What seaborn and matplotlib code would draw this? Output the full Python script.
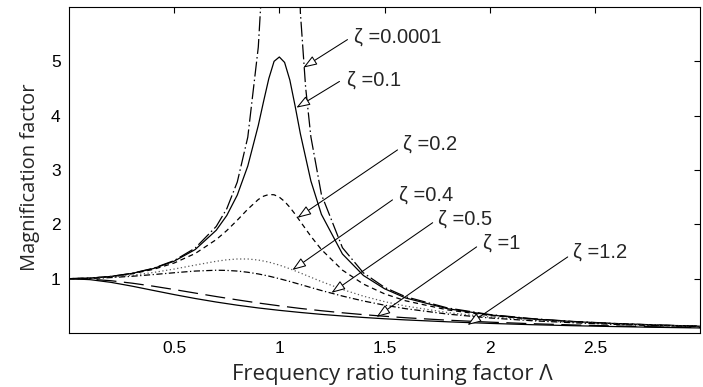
import matplotlib
matplotlib.use("Agg")
import matplotlib.pyplot as plt
import seaborn as sns
import pandas as pd

# ---------------- data ----------------
x_undamped = [0, 0.1, 0.2, 0.3, 0.4, 0.5, 0.6, 0.7, 0.75, 0.8, 0.85, 0.9, 0.925, 0.95,
              1.05, 1.1, 1.125, 1.15, 1.2, 1.3, 1.4, 1.5, 1.6, 1.8, 2.0, 2.2, 2.4, 2.6, 2.8, 3.0]
y_z00001 = [1.0, 1.01, 1.042, 1.099, 1.19, 1.333, 1.563, 1.961, 2.286, 2.778, 3.604, 5.263, 6.93, 10.26,
            14.0, 5.9, 4.52, 3.61, 2.55, 1.57, 1.106, 0.84, 0.668, 0.461, 0.34, 0.265, 0.212, 0.175, 0.147, 0.125]

x_peak = [0, 0.1, 0.2, 0.3, 0.4, 0.5, 0.6, 0.7, 0.75, 0.8, 0.85, 0.9, 0.925, 0.95, 0.975, 1.0,
          1.025, 1.05, 1.075, 1.1, 1.15, 1.2, 1.3, 1.4, 1.5, 1.6, 1.8, 2.0, 2.2, 2.4, 2.6, 2.8, 3.0]
y_z01 = [1.0, 1.01, 1.041, 1.097, 1.185, 1.322, 1.536, 1.891, 2.162, 2.538, 3.073, 3.821, 4.261, 4.683, 5.0, 5.08,
         4.98, 4.655, 4.178, 3.667, 2.798, 2.184, 1.454, 1.058, 0.815, 0.645, 0.447, 0.333, 0.259, 0.209, 0.173, 0.146, 0.125]
y_z02 = [1.0, 1.009, 1.038, 1.090, 1.170, 1.288, 1.463, 1.719, 1.885, 2.076, 2.279, 2.457, 2.518, 2.549, 2.544, 2.5,
         2.421, 2.313, 2.187, 2.051, 1.780, 1.536, 1.157, 0.900, 0.721, 0.593, 0.425, 0.322, 0.254, 0.206, 0.171, 0.144, 0.124]

x_mid = [0, 0.1, 0.2, 0.3, 0.4, 0.5, 0.6, 0.7, 0.75, 0.8, 0.85, 0.9, 0.95, 1.0, 1.05, 1.1, 1.15,
         1.2, 1.3, 1.4, 1.5, 1.6, 1.8, 2.0, 2.2, 2.4, 2.6, 2.8, 3.0]
y_z04 = [1.0, 1.007, 1.028, 1.063, 1.113, 1.177, 1.25, 1.320, 1.347, 1.362, 1.362, 1.343, 1.305, 1.25, 1.182, 1.105, 1.026,
         0.947, 0.801, 0.678, 0.577, 0.496, 0.376, 0.294, 0.237, 0.195, 0.163, 0.139, 0.120]
y_z05 = [1.0, 1.005, 1.020, 1.044, 1.075, 1.109, 1.140, 1.155, 1.152, 1.140, 1.118, 1.087, 1.047, 1.0, 0.948, 0.893, 0.837,
         0.782, 0.680, 0.589, 0.512, 0.448, 0.348, 0.277, 0.226, 0.188, 0.158, 0.135, 0.117]

x_low = [0, 0.1, 0.2, 0.3, 0.4, 0.5, 0.6, 0.7, 0.8, 0.9, 1.0, 1.1, 1.2, 1.3, 1.4, 1.5, 1.6,
         1.8, 2.0, 2.2, 2.4, 2.6, 2.8, 3.0]
y_z1 = [1.0, 0.990, 0.962, 0.917, 0.862, 0.8, 0.735, 0.671, 0.610, 0.552, 0.5, 0.452, 0.410, 0.372, 0.338, 0.308, 0.281,
        0.236, 0.2, 0.171, 0.148, 0.129, 0.113, 0.1]
y_z12 = [1.0, 0.982, 0.932, 0.862, 0.784, 0.707, 0.635, 0.570, 0.512, 0.461, 0.417, 0.378, 0.343, 0.313, 0.286, 0.262, 0.241,
         0.206, 0.177, 0.153, 0.134, 0.118, 0.104, 0.093]

labels = ["ζ =0.0001", "ζ =0.1", "ζ =0.2", "ζ =0.4", "ζ =0.5", "ζ =1", "ζ =1.2"]
# arrow tip (on curve), arrow tail, label anchor (data coords)
arrow_tips = [(1.114, 4.885), (1.081, 4.147), (1.086, 2.12), (1.062, 1.16), (1.248, 0.74), (1.462, 0.295), (1.895, 0.147)]
arrow_tails = [(1.324, 5.40), (1.286, 4.63), (1.562, 3.37), (1.538, 2.45), (1.729, 2.03), (1.938, 1.585), (2.371, 1.40)]
label_pos = [(1.357, 5.44), (1.324, 4.66), (1.586, 3.48), (1.571, 2.53), (1.752, 2.10), (1.967, 1.66), (2.395, 1.49)]

xticks = [0.5, 1, 1.5, 2, 2.5]
yticks = [1, 2, 3, 4, 5]

# ---------------- styling ----------------
sns.set_style("white")
plt.rcParams["font.family"] = ["Liberation Sans", "DejaVu Sans"]

fig = plt.figure(figsize=(7.03, 3.87), dpi=100)
ax = fig.add_axes([69 / 703, 1 - 333 / 387, 631 / 703, 326 / 387])

series = [
    (x_undamped, y_z00001, dict(dashes=(12, 2.5, 1.2, 2.5)), "black"),
    (x_peak, y_z01, dict(linestyle="-"), "black"),
    (x_peak, y_z02, dict(dashes=(4, 3)), "black"),
    (x_mid, y_z04, dict(dashes=(1, 2)), "0.35"),
    (x_mid, y_z05, dict(dashes=(5, 2, 1, 2)), "black"),
    (x_low, y_z1, dict(dashes=(16, 6)), "black"),
    (x_low, y_z12, dict(linestyle="-"), "black"),
]
for xs, ys, style, col in series:
    df = pd.DataFrame({"x": xs, "y": ys})
    line_kw = dict(style)
    dashes = line_kw.pop("dashes", None)
    sns.lineplot(data=df, x="x", y="y", ax=ax, color=col, lw=0.9, sort=False, **line_kw)
    if dashes is not None:
        ax.lines[-1].set_dashes(dashes)

for lab, tip, tail, pos in zip(labels, arrow_tips, arrow_tails, label_pos):
    ax.annotate("", xy=tip, xytext=tail,
                arrowprops=dict(arrowstyle="-|>,head_length=0.7,head_width=0.25",
                                fc="white", ec="black", lw=0.75,
                                shrinkA=0, shrinkB=0, mutation_scale=12))
    ax.text(pos[0], pos[1], lab, ha="left", va="center", fontsize=14.5,
            family=["Liberation Sans", "DejaVu Sans"])

ax.set_xlim(0, 3.0)
ax.set_ylim(0, 6)
ax.set_xticks(xticks)
ax.set_xticklabels([f"{t:g}" for t in xticks], fontsize=12.5, family="Liberation Sans")
ax.set_yticks(yticks)
ax.set_yticklabels([f"{t:g}" for t in yticks], fontsize=12.5, family="Liberation Sans")
ax.tick_params(direction="in", length=4.5, width=0.8, top=True, right=True, colors="black")
ax.tick_params(axis="x", pad=6)
ax.tick_params(axis="y", pad=6)
for s in ax.spines.values():
    s.set_linewidth(0.8)
    s.set_color("black")

ax.set_xlabel("Frequency ratio tuning factor Λ", fontsize=16, family=["Open Sans", "DejaVu Sans"])
ax.set_ylabel("Magnification factor", fontsize=14.5, family=["Open Sans", "DejaVu Sans"])
ax.xaxis.label.set_va("bottom")
ax.xaxis.set_label_coords(0.512, -0.159)
ax.yaxis.set_label_coords(-0.046, 0.477)

fig.savefig("out.png", dpi=100)
